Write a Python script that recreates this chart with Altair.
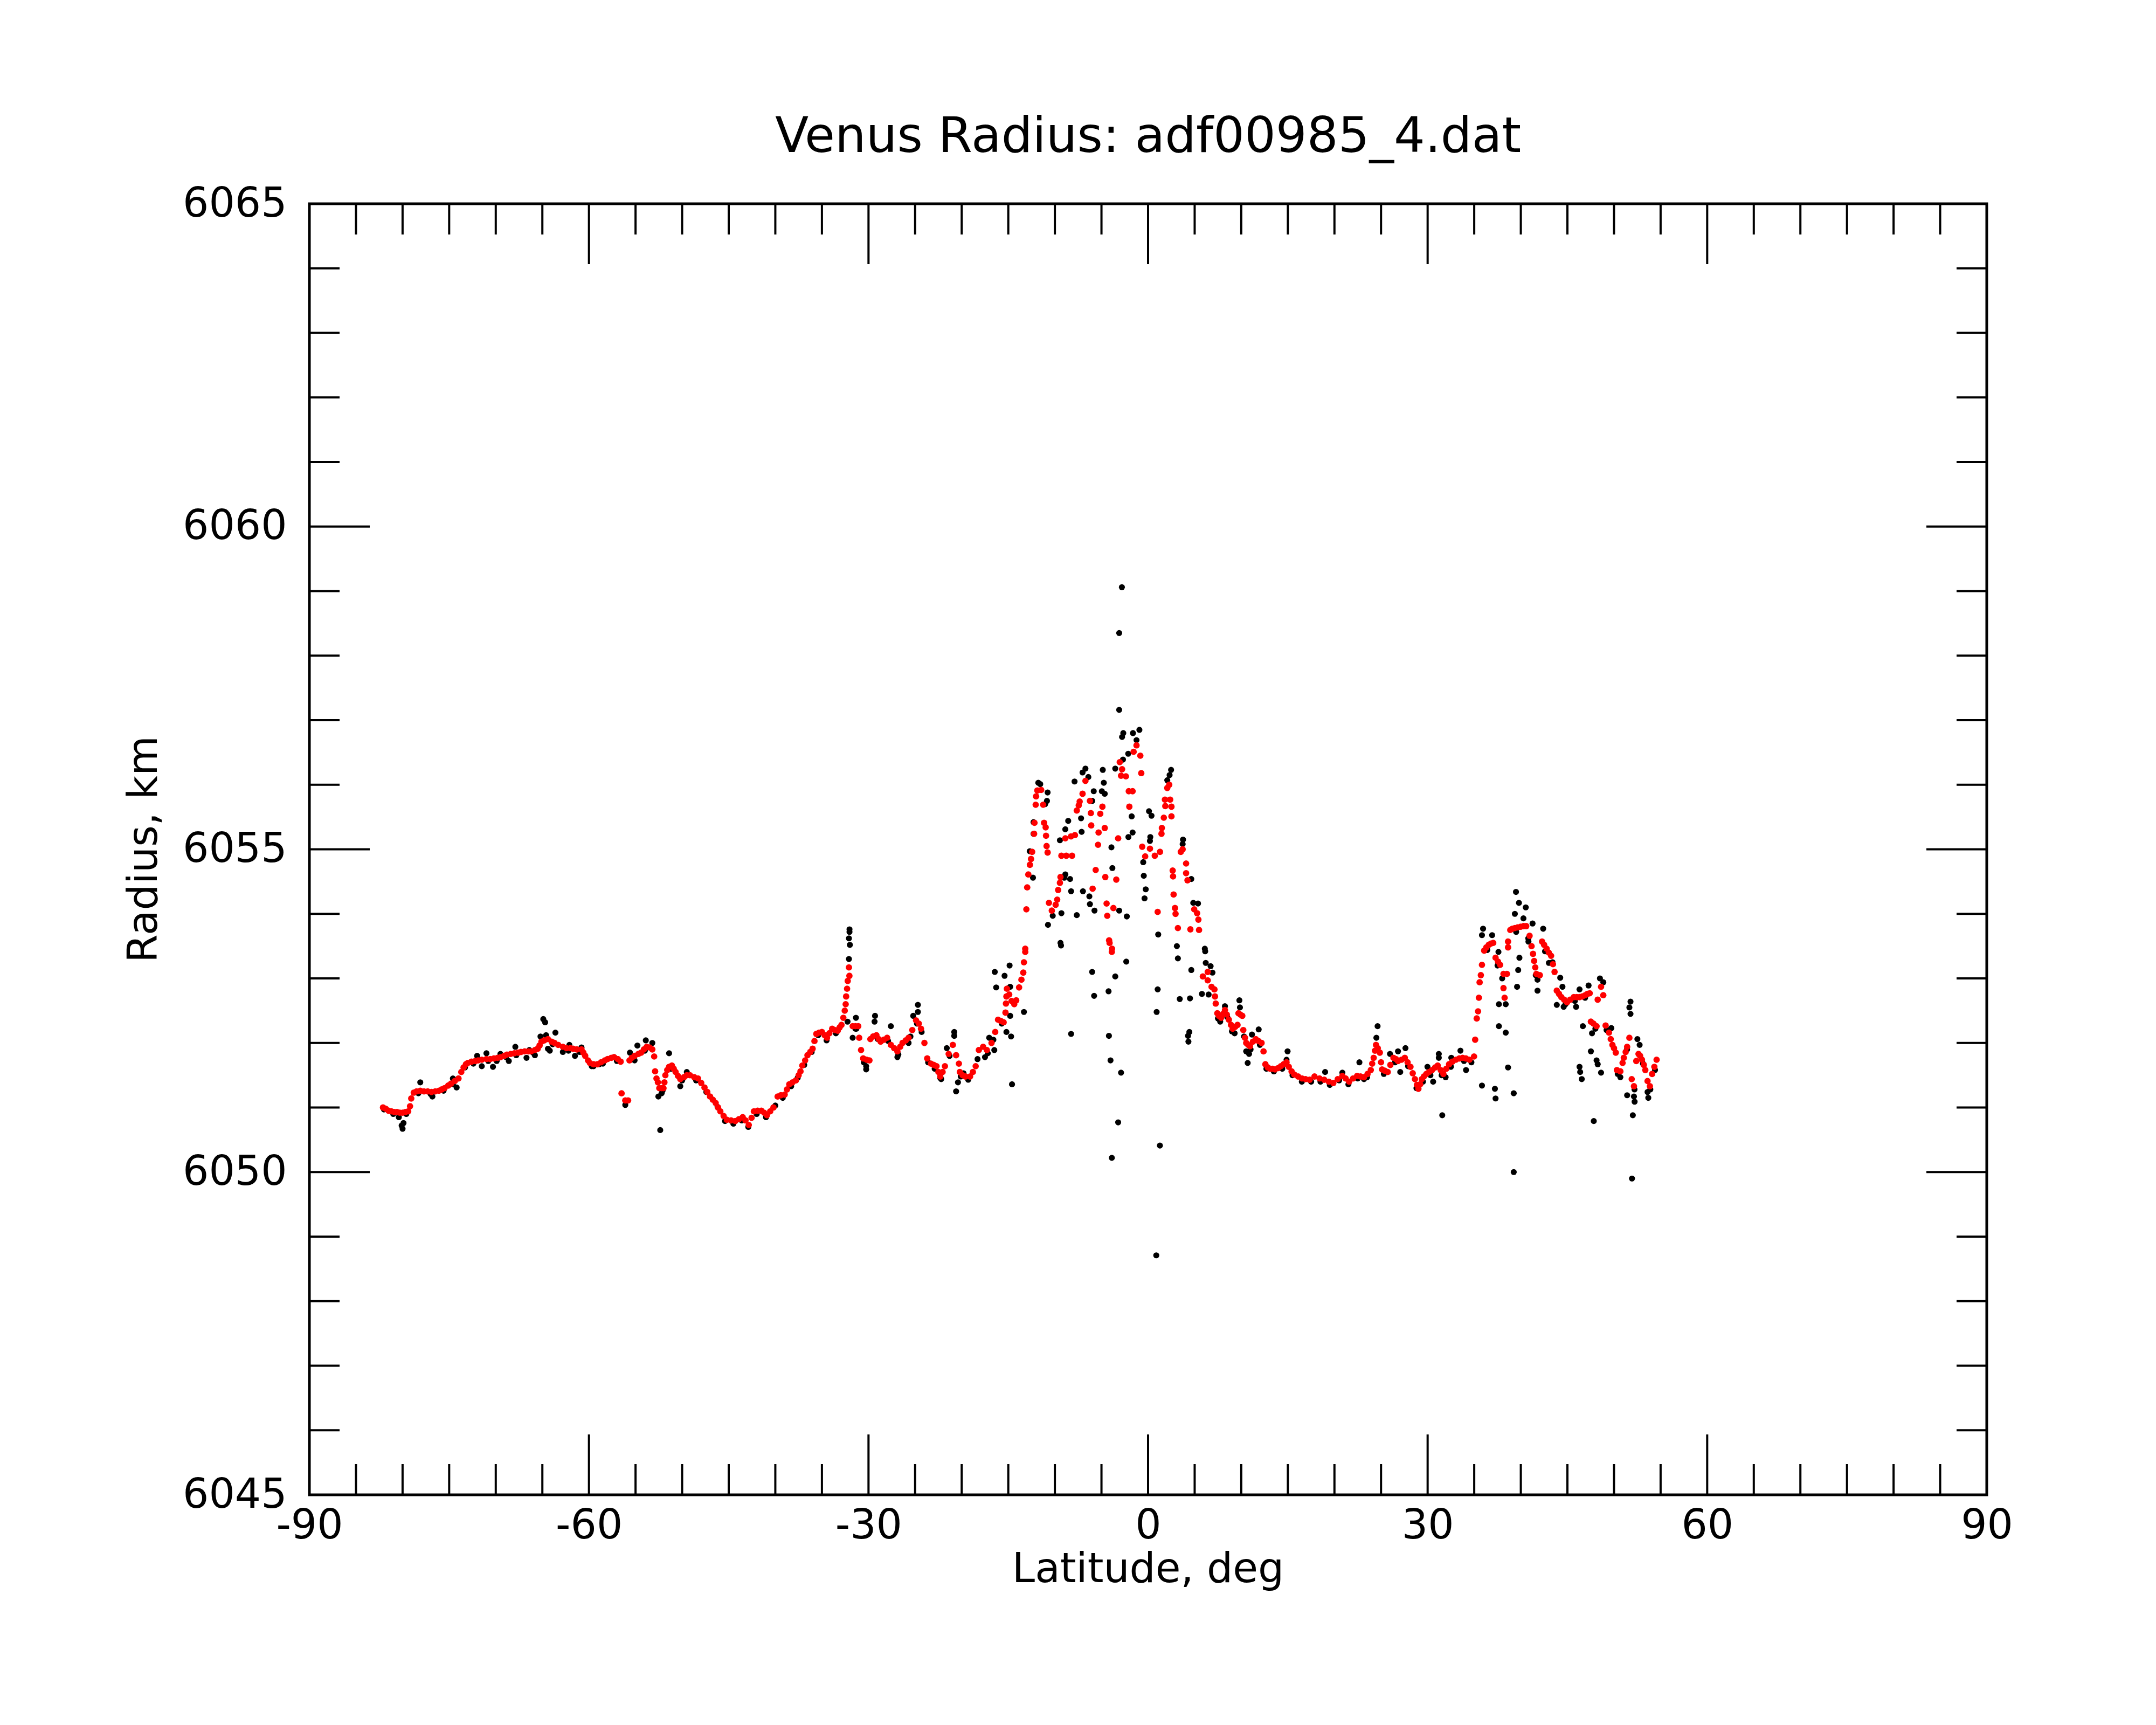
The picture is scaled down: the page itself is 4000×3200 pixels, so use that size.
import altair as alt
import pandas as pd

TITLE = "Venus Radius: adf00985_4.dat"
X_TITLE = "Latitude, deg"
Y_TITLE = "Radius, km"

X_LABELS = [-90, -60, -30, 0, 30, 60, 90]
X_MAJOR = [-60, -30, 0, 30, 60]
X_MINOR = [-85, -80, -75, -70, -65, -55, -50, -45, -40, -35, -25, -20, -15, -10, -5,
           5, 10, 15, 20, 25, 35, 40, 45, 50, 55, 65, 70, 75, 80, 85]
Y_LABELS = [6045, 6050, 6055, 6060, 6065]
Y_MAJOR = [6050, 6055, 6060]
Y_MINOR = [6046, 6047, 6048, 6049, 6051, 6052, 6053, 6054, 6056, 6057, 6058, 6059,
           6061, 6062, 6063, 6064]

# smoothed profile (red), (latitude, radius)
RED_SOUTH = [
    (-82.1, 6051.00), (-81.8, 6050.98), (-81.5, 6050.95), (-81.2, 6050.94), (-80.9, 6050.93),
    (-80.6, 6050.93), (-80.3, 6050.92), (-80.0, 6050.92), (-79.7, 6050.93), (-79.4, 6050.94),
    (-79.2, 6051.02), (-79.07, 6051.14), (-78.8, 6051.23), (-78.5, 6051.25), (-78.1, 6051.26),
    (-77.7, 6051.25), (-77.3, 6051.25), (-76.9, 6051.24), (-76.5, 6051.25), (-76.1, 6051.26),
    (-75.8, 6051.28), (-75.5, 6051.30), (-75.1, 6051.34), (-74.8, 6051.37), (-74.4, 6051.41),
    (-74.0, 6051.45), (-73.7, 6051.55), (-73.45, 6051.62), (-73.2, 6051.67), (-73.0, 6051.69),
    (-72.6, 6051.71), (-72.2, 6051.72), (-71.9, 6051.73), (-71.5, 6051.74), (-71.0, 6051.75),
    (-70.6, 6051.75), (-70.2, 6051.76), (-69.8, 6051.77), (-69.5, 6051.78), (-69.1, 6051.80),
    (-68.8, 6051.82), (-68.4, 6051.83), (-68.0, 6051.84), (-67.6, 6051.85), (-67.3, 6051.86),
    (-66.9, 6051.87), (-66.5, 6051.87), (-66.2, 6051.87), (-65.8, 6051.89), (-65.5, 6051.91),
    (-65.3, 6051.96), (-65.1, 6052.02), (-64.8, 6052.04), (-64.4, 6052.06), (-64.0, 6052.02),
    (-63.7, 6052.00), (-63.3, 6051.97), (-62.8, 6051.94), (-62.4, 6051.92), (-62.0, 6051.92),
    (-61.7, 6051.91), (-61.3, 6051.90), (-60.8, 6051.90), (-60.6, 6051.85), (-60.4, 6051.80),
    (-60.1, 6051.73), (-59.9, 6051.69), (-59.5, 6051.67), (-59.1, 6051.67), (-58.7, 6051.70),
    (-58.3, 6051.73), (-58.0, 6051.75), (-57.6, 6051.77), (-57.3, 6051.78), (-56.9, 6051.75),
    (-56.6, 6051.71), (-56.5, 6051.22), (-56.1, 6051.11), (-55.8, 6051.11), (-55.65, 6051.73),
    (-55.4, 6051.77), (-55.1, 6051.80), (-54.7, 6051.83), (-54.4, 6051.85), (-54.1, 6051.90),
    (-53.8, 6051.94), (-53.5, 6051.93), (-53.2, 6051.90), (-53.0, 6051.79), (-52.9, 6051.56),
    (-52.75, 6051.45), (-52.6, 6051.39), (-52.45, 6051.30), (-52.2, 6051.30), (-52.0, 6051.30),
    (-51.9, 6051.39), (-51.8, 6051.50), (-51.6, 6051.58), (-51.4, 6051.63), (-51.1, 6051.65),
    (-50.9, 6051.60), (-50.7, 6051.55), (-50.45, 6051.49), (-50.2, 6051.44), (-49.8, 6051.47),
    (-49.5, 6051.50),
]

RED_MID = [
    (-49.16, 6051.50), (-48.7, 6051.47), (-48.3, 6051.45), (-47.95, 6051.38), (-47.6, 6051.31),
    (-47.3, 6051.24), (-47.0, 6051.17), (-46.7, 6051.12), (-46.4, 6051.07), (-46.15, 6051.00),
    (-45.9, 6050.94), (-45.55, 6050.87), (-45.2, 6050.81), (-44.75, 6050.80), (-44.3, 6050.79),
    (-43.9, 6050.82), (-43.5, 6050.85), (-43.2, 6050.80), (-42.85, 6050.73), (-42.55, 6050.84),
    (-42.3, 6050.94), (-41.9, 6050.95), (-41.5, 6050.95), (-41.2, 6050.92), (-40.9, 6050.88),
    (-40.55, 6050.94), (-40.2, 6051.00), (-39.75, 6051.17), (-39.4, 6051.19), (-39.0, 6051.20),
    (-38.75, 6051.28), (-38.5, 6051.36), (-38.15, 6051.39), (-37.8, 6051.42), (-37.5, 6051.50),
    (-37.3, 6051.56), (-37.1, 6051.65), (-36.8, 6051.73), (-36.55, 6051.81), (-36.25, 6051.86),
    (-36.0, 6051.91), (-35.8, 6052.03), (-35.6, 6052.14), (-35.3, 6052.16), (-35.0, 6052.17),
    (-34.7, 6052.12), (-34.45, 6052.08), (-34.2, 6052.15), (-33.9, 6052.22), (-33.6, 6052.20),
    (-33.3, 6052.19), (-33.1, 6052.24), (-32.9, 6052.28), (-32.7, 6052.39), (-32.55, 6052.50),
    (-32.45, 6052.60), (-32.4, 6052.72), (-32.3, 6052.84), (-32.23, 6052.96), (-32.05, 6053.04),
    (-32.1, 6053.17), (-31.7, 6052.26), (-31.4, 6052.26), (-31.1, 6052.26), (-31.0, 6052.08),
    (-30.8, 6051.89), (-30.57, 6051.76), (-30.2, 6051.74), (-29.9, 6051.73), (-29.8, 6052.06),
    (-29.5, 6052.10), (-29.15, 6052.12), (-28.9, 6052.06), (-28.7, 6052.02), (-28.35, 6052.05),
    (-28.0, 6052.08), (-27.6, 6051.97), (-27.25, 6051.92), (-26.9, 6051.87), (-26.6, 6051.94),
    (-26.35, 6052.00), (-26.0, 6052.04), (-25.7, 6052.08), (-25.3, 6052.20), (-24.9, 6052.35),
    (-24.6, 6052.30), (-24.37, 6052.22), (-24.0, 6052.00), (-23.7, 6051.76), (-23.3, 6051.68),
    (-23.0, 6051.66), (-22.7, 6051.64), (-22.5, 6051.55), (-22.3, 6051.48), (-22.05, 6051.55),
    (-21.8, 6051.64), (-21.4, 6051.83), (-20.95, 6051.97), (-20.6, 6051.81), (-20.3, 6051.68),
    (-20.2, 6051.55), (-19.9, 6051.50), (-19.6, 6051.48), (-19.1, 6051.48), (-18.8, 6051.55),
    (-18.5, 6051.64), (-18.16, 6051.89), (-17.7, 6051.94), (-17.3, 6051.89), (-16.8, 6052.00),
    (-16.4, 6052.17), (-16.1, 6052.36), (-15.8, 6052.34), (-15.5, 6052.32), (-15.3, 6052.47),
    (-15.25, 6052.61), (-15.2, 6052.72), (-15.15, 6052.84), (-14.9, 6052.75), (-14.65, 6052.65),
    (-14.36, 6052.60), (-14.15, 6052.66), (-13.84, 6052.86), (-13.59, 6052.98), (-13.39, 6053.09),
    (-13.32, 6053.25), (-13.18, 6053.41),
]

RED_EQ = [
    (-13.18, 6053.46), (-13.06, 6054.07), (-12.97, 6054.41), (-12.85, 6054.61), (-12.68, 6054.76),
    (-12.56, 6054.85), (-12.44, 6054.96), (-12.23, 6055.24), (-12.19, 6055.41), (-12.06, 6055.69),
    (-12.02, 6055.82), (-11.88, 6055.91), (-11.47, 6055.92), (-11.26, 6055.69), (-11.16, 6055.41),
    (-10.99, 6055.34), (-10.95, 6055.21), (-10.89, 6055.05), (-10.78, 6054.95), (-10.64, 6054.17),
    (-10.33, 6054.05), (-9.92, 6054.14), (-9.75, 6054.22), (-9.65, 6054.37), (-9.46, 6054.48),
    (-9.40, 6054.57), (-9.30, 6054.90), (-8.78, 6054.90), (-8.16, 6054.90), (-8.88, 6055.17),
    (-8.27, 6055.20), (-7.85, 6055.22), (-7.65, 6055.60), (-7.44, 6055.68), (-7.34, 6055.74),
    (-7.03, 6055.86), (-6.72, 6056.06), (-6.24, 6055.75), (-6.14, 6055.56), (-6.10, 6055.37),
    (-5.95, 6054.39), (-5.62, 6054.68), (-5.37, 6055.07), (-5.31, 6055.26), (-5.13, 6055.55),
    (-4.90, 6055.66), (-4.65, 6055.33), (-4.59, 6054.57), (-4.45, 6054.16), (-4.38, 6053.97),
    (-4.18, 6053.59), (-4.13, 6053.55), (-3.89, 6053.41), (-3.87, 6053.46), (-3.72, 6054.09),
    (-3.41, 6054.53), (-3.21, 6055.17), (-3.04, 6056.35), (-2.79, 6056.24), (-2.90, 6056.14),
    (-2.38, 6056.13), (-2.07, 6055.90), (-2.01, 6055.66), (-1.66, 6055.90), (-1.55, 6056.51),
    (-1.24, 6056.61), (-0.83, 6056.45), (-0.73, 6056.18), (-0.63, 6055.04), (-0.31, 6054.89),
    (0.20, 6055.01), (0.72, 6054.90), (1.28, 6054.96), (1.03, 6054.03), (1.44, 6055.24),
    (1.48, 6055.33), (1.69, 6055.49), (1.85, 6055.67), (1.81, 6055.77), (2.37, 6055.77),
    (2.51, 6055.66), (2.51, 6055.51), (2.06, 6055.95), (2.27, 6056.00), (2.64, 6054.67),
    (2.68, 6054.58), (2.74, 6054.30), (2.89, 6054.09), (2.95, 6054.00), (3.20, 6053.78),
    (3.51, 6054.96), (3.71, 6055.00), (4.08, 6054.78), (4.08, 6054.63), (4.23, 6054.52),
    (4.54, 6053.76), (4.95, 6054.07), (5.26, 6054.01), (5.40, 6053.91), (5.47, 6053.75),
]

RED_NORTH = [
    (5.88, 6053.03), (6.40, 6053.10), (6.40, 6052.97), (6.81, 6052.87), (7.12, 6052.83),
    (7.18, 6052.72), (7.26, 6052.61), (7.43, 6052.46), (7.60, 6052.42), (7.84, 6052.39),
    (8.05, 6052.45), (8.25, 6052.51), (8.45, 6052.44), (8.67, 6052.36), (8.90, 6052.28),
    (9.08, 6052.22), (9.35, 6052.25), (9.60, 6052.28), (9.70, 6052.46), (9.90, 6052.44),
    (10.11, 6052.42), (10.22, 6052.20), (10.40, 6052.08), (10.53, 6052.00), (10.75, 6051.97),
    (10.94, 6051.95), (11.25, 6052.02), (11.56, 6052.06), (11.85, 6052.03), (12.18, 6052.00),
    (12.39, 6051.87), (12.59, 6051.67), (12.85, 6051.62), (13.10, 6051.60), (13.35, 6051.60),
    (13.62, 6051.59), (13.95, 6051.61), (14.25, 6051.64), (14.55, 6051.67), (14.86, 6051.70),
    (15.10, 6051.63), (15.40, 6051.56), (15.69, 6051.51), (16.10, 6051.48), (16.52, 6051.45),
    (16.90, 6051.44), (17.34, 6051.43), (17.86, 6051.48),
    (18.40, 6051.45), (18.90, 6051.43), (19.40, 6051.40), (19.88, 6051.38), (20.35, 6051.44),
    (20.85, 6051.49), (21.20, 6051.45), (21.58, 6051.40), (22.00, 6051.45), (22.43, 6051.49),
    (22.80, 6051.48), (23.17, 6051.47), (23.55, 6051.52), (23.90, 6051.58), (24.05, 6051.68),
    (24.21, 6051.77), (24.35, 6051.88), (24.46, 6051.97), (24.65, 6051.92), (24.87, 6051.85),
    (25.00, 6051.70), (25.11, 6051.59), (25.40, 6051.57), (25.72, 6051.55), (26.00, 6051.66),
    (26.33, 6051.77), (26.60, 6051.75), (26.82, 6051.72), (27.20, 6051.74), (27.55, 6051.77),
    (27.85, 6051.70), (28.16, 6051.63), (28.40, 6051.53), (28.64, 6051.44), (28.85, 6051.35),
    (29.01, 6051.29), (29.20, 6051.36), (29.37, 6051.44), (29.60, 6051.48), (29.86, 6051.52),
    (30.15, 6051.55), (30.47, 6051.58), (30.80, 6051.62), (31.08, 6051.65), (31.40, 6051.58),
    (31.69, 6051.52), (32.00, 6051.60), (32.30, 6051.67), (32.65, 6051.71), (33.03, 6051.74),
    (33.40, 6051.76), (33.76, 6051.77), (34.10, 6051.76), (34.49, 6051.74), (34.98, 6051.79),
    (35.10, 6052.05), (35.27, 6052.38), (35.41, 6052.49), (35.50, 6052.70), (35.58, 6052.94),
    (35.71, 6053.05), (35.83, 6053.21), (36.07, 6053.43), (36.30, 6053.48), (36.56, 6053.52),
    (36.80, 6053.54), (37.04, 6053.55), (37.29, 6053.32), (37.55, 6053.26), (37.78, 6053.21),
    (38.14, 6053.07), (38.51, 6053.07), (38.14, 6052.85), (38.26, 6052.70), (38.63, 6053.57),
    (38.63, 6053.48), (38.87, 6053.75), (39.10, 6053.77), (39.36, 6053.78), (39.65, 6053.79),
    (39.97, 6053.80), (40.30, 6053.81), (40.58, 6053.81), (40.94, 6053.66), (41.15, 6053.50),
    (41.31, 6053.38), (41.43, 6053.27), (41.55, 6053.17), (41.67, 6053.07), (42.04, 6053.05),
    (42.28, 6053.57), (42.50, 6053.52), (42.77, 6053.46), (43.00, 6053.40), (43.25, 6053.35),
    (43.45, 6053.22), (43.62, 6053.10), (43.86, 6052.81), (44.10, 6052.76), (44.35, 6052.71),
    (44.65, 6052.67), (44.96, 6052.63), (45.30, 6052.67), (45.69, 6052.71), (46.00, 6052.71),
    (46.30, 6052.71), (46.60, 6052.72), (46.91, 6052.74), (47.15, 6052.76), (47.39, 6052.77),
    (47.52, 6052.33), (47.80, 6052.30), (48.13, 6052.26), (48.25, 6052.67), (48.61, 6052.87),
    (48.85, 6052.74), (49.10, 6052.27), (49.46, 6052.16), (49.65, 6052.06), (49.83, 6051.97),
    (50.00, 6051.92), (50.19, 6051.85), (50.31, 6051.58), (50.68, 6051.56), (50.92, 6051.69),
    (51.05, 6051.77), (51.25, 6051.86), (51.41, 6051.94), (51.65, 6052.08), (51.90, 6051.44),
    (52.14, 6051.33), (52.39, 6051.72), (52.63, 6051.83), (52.80, 6051.80), (53.00, 6051.74),
    (53.20, 6051.66), (53.36, 6051.58), (53.60, 6051.41), (53.85, 6051.33), (54.09, 6051.52),
    (54.33, 6051.63), (54.57, 6051.74),
]

# raw measurements (black), (latitude, radius)
BLACK_TRACK = [
    (-82.0, 6050.97), (-81.0, 6050.90), (-79.6, 6050.90), (-78.3, 6051.22), (-77.0, 6051.21),
    (-75.6, 6051.26), (-74.6, 6051.36), (-73.3, 6051.62), (-72.4, 6051.68), (-70.8, 6051.72),
    (-69.9, 6051.72), (-68.9, 6051.78), (-67.8, 6051.81), (-66.0, 6051.85), (-63.9, 6051.98),
    (-62.2, 6051.88), (-61.0, 6051.86), (-59.7, 6051.64), (-58.5, 6051.68), (-57.0, 6051.72),
    (-55.2, 6051.76), (-54.0, 6051.88), (-52.1, 6051.26), (-51.2, 6051.60), (-50.0, 6051.42),
    (-48.5, 6051.42), (-47.4, 6051.24), (-46.2, 6051.01), (-45.4, 6050.79), (-44.5, 6050.75),
    (-43.6, 6050.80), (-42.9, 6050.70), (-42.0, 6050.90), (-41.0, 6050.85), (-40.0, 6051.03),
    (-39.2, 6051.15), (-38.3, 6051.33), (-37.6, 6051.46), (-36.9, 6051.66), (-36.1, 6051.86),
    (-35.4, 6052.12), (-34.5, 6052.04), (-33.5, 6052.15), (-31.3, 6052.22), (-30.5, 6051.70),
    (-29.0, 6052.06), (-27.9, 6052.03), (-26.8, 6051.82), (-25.5, 6052.10), (-24.8, 6052.30),
    (-23.6, 6051.70), (-22.9, 6051.60), (-22.2, 6051.44), (-21.3, 6051.80), (-20.1, 6051.48),
    (-19.3, 6051.43), (-18.3, 6051.75), (-17.2, 6051.84), (-16.6, 6052.05), (-15.7, 6052.30),
    (7.5, 6052.38), (8.5, 6052.40), (9.0, 6052.18), (10.3, 6052.10), (11.0, 6051.90),
    (12.0, 6051.97), (12.7, 6051.60), (13.5, 6051.56), (14.4, 6051.60), (15.5, 6051.50),
    (16.5, 6051.40), (17.5, 6051.40), (18.5, 6051.40), (19.5, 6051.35), (20.5, 6051.42),
    (21.5, 6051.36), (22.5, 6051.45), (23.5, 6051.47), (25.3, 6051.52), (26.5, 6051.70),
    (27.9, 6051.64), (28.8, 6051.30), (29.5, 6051.40), (30.3, 6051.50), (31.5, 6051.50),
    (32.5, 6051.63), (33.9, 6051.72), (34.7, 6051.70), (36.4, 6053.44), (37.5, 6053.20),
    (38.0, 6053.00), (39.5, 6053.72), (40.8, 6053.62), (41.6, 6053.05), (42.6, 6053.42),
    (43.4, 6053.25), (44.8, 6052.60), (45.8, 6052.65), (46.9, 6052.70), (48.0, 6052.22),
    (49.2, 6052.20), (50.4, 6051.52), (51.4, 6051.90), (52.2, 6051.28), (53.1, 6051.68),
    (53.9, 6051.28), (54.4, 6051.58),
]

BLACK_SOUTH = [
    (-80.4, 6050.85), (-80.1, 6050.72), (-79.9, 6050.76), (-80.0, 6050.67), (-78.1, 6051.39),
    (-76.8, 6051.17), (-74.6, 6051.45), (-74.2, 6051.31), (-72.0, 6051.80), (-71.5, 6051.64),
    (-71.0, 6051.84), (-70.3, 6051.63), (-69.5, 6051.83), (-68.6, 6051.72), (-67.9, 6051.94),
    (-66.7, 6051.77), (-66.4, 6051.89), (-65.8, 6051.81), (-64.9, 6052.37), (-64.7, 6052.32),
    (-65.2, 6052.10), (-64.6, 6052.12), (-63.6, 6052.16), (-64.4, 6051.91), (-64.2, 6051.88),
    (-62.1, 6051.97), (-62.8, 6051.86), (-61.5, 6051.80), (-60.8, 6051.93), (-59.5, 6051.64),
    (-58.9, 6051.67), (-57.3, 6051.78), (-56.1, 6051.04), (-55.6, 6051.85), (-54.8, 6051.96),
    (-53.9, 6052.04), (-53.2, 6052.00), (-55.1, 6051.73), (-52.55, 6051.17), (-52.35, 6050.65),
    (-52.2, 6051.22), (-51.4, 6051.84), (-50.2, 6051.33), (-49.5, 6051.55),
]

BLACK_MID = [
    (-32.04, 6053.76), (-32.04, 6053.72), (-32.1, 6053.62), (-32.0, 6053.52), (-32.1, 6053.30),
    (-32.25, 6052.33), (-31.35, 6052.39), (-31.4, 6052.22), (-31.7, 6052.08), (-30.25, 6051.59),
    (-30.25, 6051.64), (-29.3, 6052.42), (-29.35, 6052.33), (-27.6, 6052.26), (-24.7, 6052.59),
    (-24.7, 6052.48), (-25.2, 6052.42), (-24.3, 6052.17), (-26.9, 6051.78), (-25.7, 6052.00),
    (-20.8, 6052.17), (-20.8, 6052.11), (-21.6, 6051.92), (-20.6, 6051.25), (-20.4, 6051.39),
    (-22.3, 6051.46), (-19.8, 6051.53), (-17.5, 6051.78), (-16.5, 6051.89), (-17.05, 6052.08),
    (-16.45, 6053.10), (-16.3, 6052.86), (-15.4, 6053.04), (-14.86, 6053.20), (-14.8, 6052.87),
    (-14.8, 6052.42), (-15.2, 6052.17), (-14.7, 6052.10), (-14.6, 6051.36),
]

BLACK_EQ = [
    (-11.78, 6056.03), (-11.57, 6056.01), (-10.78, 6055.88), (-10.85, 6055.75), (-11.05, 6055.70),
    (-12.29, 6055.42), (-12.29, 6055.24), (-12.70, 6054.97), (-12.35, 6054.56), (-10.74, 6053.83),
    (-9.40, 6053.55), (-10.23, 6053.97), (-9.30, 6054.01), (-9.46, 6055.14), (-8.88, 6055.31),
    (-8.57, 6055.44), (-7.65, 6053.98), (-7.13, 6055.27), (-7.19, 6055.48), (-6.72, 6056.25),
    (-7.03, 6056.19), (-6.41, 6056.12), (-7.89, 6056.05), (-5.83, 6055.90), (-5.99, 6055.75),
    (-4.86, 6056.23), (-4.75, 6056.03), (-4.96, 6055.90), (-4.65, 6055.86), (-8.26, 6054.35),
    (-8.37, 6054.54), (-8.88, 6054.61), (-8.99, 6054.56), (-6.99, 6054.35), (-6.30, 6054.27),
    (-6.24, 6054.15), (-5.75, 6054.05), (-3.83, 6054.71), (-3.93, 6055.03), (-3.10, 6054.05),
    (-2.28, 6053.96), (-2.11, 6055.19), (-1.66, 6055.26), (-1.76, 6055.51), (-2.79, 6056.74),
    (-1.62, 6056.80), (-0.93, 6056.85), (-1.24, 6056.69), (-2.13, 6056.48), (-2.69, 6056.39),
    (-3.52, 6056.25), (0.10, 6055.59), (0.37, 6055.52), (0.24, 6055.19), (0.20, 6055.13),
    (-0.52, 6054.80), (-0.46, 6054.59), (-0.25, 6054.38), (-0.38, 6054.24), (1.09, 6053.68),
    (2.47, 6056.23), (2.31, 6056.15), (2.06, 6056.07), (3.75, 6055.15), (3.71, 6055.08),
    (4.64, 6054.54), (4.85, 6054.17), (5.36, 6054.16), (3.09, 6053.50), (6.09, 6053.46),
    (-9.34, 6053.51), (-13.32, 6052.48), (-8.26, 6052.14), (-6.00, 6053.10), (-5.79, 6052.73),
    (-4.24, 6052.80), (-3.52, 6053.03), (-2.34, 6053.26), (-4.20, 6052.11), (-4.03, 6051.73),
    (-2.90, 6051.54), (-3.21, 6050.77), (-3.89, 6050.22), (1.03, 6052.83), (0.92, 6052.48),
    (1.27, 6050.41), (3.20, 6053.31), (4.64, 6053.13), (3.40, 6052.68), (4.50, 6052.69),
    (4.43, 6052.17), (4.29, 6052.11), (4.33, 6052.02), (6.13, 6053.42), (6.19, 6053.24),
    (6.71, 6053.19), (6.91, 6053.09), (5.78, 6052.76), (6.50, 6052.75), (7.74, 6052.33),
    (8.25, 6052.57), (9.80, 6052.66), (9.86, 6052.55), (9.29, 6052.15), (11.87, 6052.21),
    (11.15, 6052.13), (10.53, 6051.87), (10.84, 6051.83), (10.69, 6051.69), (14.97, 6051.87),
    (14.86, 6051.74),
]

BLACK_NORTH = [
    (24.63, 6052.26), (24.50, 6052.08), (22.68, 6051.70), (23.17, 6051.44), (19.00, 6051.55),
    (20.85, 6051.54), (25.96, 6051.83), (26.82, 6051.87), (27.06, 6051.55), (27.62, 6051.92),
    (29.98, 6051.63), (30.59, 6051.40), (31.20, 6051.83), (31.20, 6051.77), (31.93, 6051.47),
    (31.57, 6050.88), (32.54, 6051.77), (33.52, 6051.88), (34.12, 6051.58), (35.83, 6051.34),
    (37.22, 6051.29), (37.29, 6051.14), (39.24, 6051.22), (38.63, 6051.62), (37.65, 6052.26),
    (38.38, 6052.16), (35.95, 6053.77), (35.83, 6053.67), (36.92, 6053.67), (37.60, 6053.41),
    (37.65, 6052.60), (38.38, 6052.60), (39.48, 6054.34), (39.80, 6054.17), (40.53, 6054.10),
    (39.36, 6054.00), (40.28, 6053.93), (39.85, 6053.32), (39.72, 6053.13), (39.60, 6052.87),
    (41.26, 6053.85), (40.82, 6053.57), (41.79, 6052.98), (41.79, 6052.81), (42.40, 6053.77),
    (43.01, 6053.24), (44.23, 6053.01), (44.47, 6052.87), (43.86, 6052.59), (44.60, 6052.56),
    (45.93, 6052.56), (46.30, 6052.83), (47.27, 6052.89), (48.49, 6053.00), (48.85, 6052.94),
    (46.66, 6052.26), (47.64, 6052.15), (47.52, 6051.87), (48.13, 6051.73), (48.25, 6051.67),
    (48.61, 6051.54), (46.30, 6051.63), (46.37, 6051.55), (46.54, 6051.44), (47.83, 6050.79),
    (49.71, 6052.23), (51.77, 6052.64), (51.65, 6052.55), (51.77, 6052.45), (52.51, 6052.06),
    (52.75, 6051.97), (50.68, 6051.47), (51.41, 6051.19), (52.14, 6051.17), (52.21, 6051.09),
    (52.02, 6050.88), (53.60, 6051.24), (53.68, 6051.15),
]

BLACK_OUTLIERS = [
    (-2.81, 6059.06), (-3.10, 6058.35), (-3.10, 6057.16), (-2.66, 6056.80),
    (0.88, 6048.71), (39.24, 6050.00), (51.93, 6049.90),
]

# ---------------------------------------------------------------------------
W, H = 3112, 2395
FONT = "DejaVu Sans"
LABEL_SIZE = 76

red = pd.DataFrame(RED_SOUTH + RED_MID + RED_EQ + RED_NORTH, columns=["lat", "r"])
black = pd.DataFrame(BLACK_TRACK + BLACK_SOUTH + BLACK_MID + BLACK_EQ + BLACK_NORTH
                     + BLACK_OUTLIERS, columns=["lat", "r"])

x_axis = alt.Axis(values=X_LABELS, labelExpr="'' + datum.value", ticks=False, tickSize=0,
                  domain=False, grid=False, labelFlush=False, labelPadding=20, labelLimit=0,
                  labelFontSize=LABEL_SIZE, labelFont=FONT, labelColor="black", title=None)
y_axis = alt.Axis(values=Y_LABELS, labelExpr="'' + datum.value", ticks=False, tickSize=0,
                  domain=False, grid=False, labelFlush=False, labelPadding=42, labelLimit=0,
                  labelFontSize=LABEL_SIZE, labelFont=FONT, labelColor="black", title=None)
xs = alt.Scale(domain=[-90, 90], nice=False, zero=False)
ys = alt.Scale(domain=[6045, 6065], nice=False, zero=False)


def X():
    return alt.X("lat:Q", scale=xs, axis=x_axis)


def Y():
    return alt.Y("r:Q", scale=ys, axis=y_axis)


black_pts = alt.Chart(black).mark_circle(size=125, opacity=1, color="black").encode(x=X(), y=Y())
red_pts = alt.Chart(red).mark_circle(size=140, opacity=1, color="#ff0000").encode(x=X(), y=Y())

TICK_W = 4
MINOR_X, MAJOR_X = 57, 112
MINOR_Y, MAJOR_Y = 56, 112

layers = [black_pts, red_pts]
for vals, ln in [(X_MINOR, MINOR_X), (X_MAJOR, MAJOR_X)]:
    d = pd.DataFrame({"lat": vals})
    layers.append(alt.Chart(d).mark_rule(color="black", strokeWidth=TICK_W).encode(
        x=X(), y=alt.value(H), y2=alt.value(H - ln)))
    layers.append(alt.Chart(d).mark_rule(color="black", strokeWidth=TICK_W).encode(
        x=X(), y=alt.value(0), y2=alt.value(ln)))
for vals, ln in [(Y_MINOR, MINOR_Y), (Y_MAJOR, MAJOR_Y)]:
    d = pd.DataFrame({"r": vals})
    layers.append(alt.Chart(d).mark_rule(color="black", strokeWidth=TICK_W).encode(
        y=Y(), x=alt.value(0), x2=alt.value(ln)))
    layers.append(alt.Chart(d).mark_rule(color="black", strokeWidth=TICK_W).encode(
        y=Y(), x=alt.value(W - ln), x2=alt.value(W)))

title_layer = alt.Chart(pd.DataFrame({"t": [TITLE]})).mark_text(
    font=FONT, fontSize=91, baseline="alphabetic", align="center", color="black"
).encode(text="t:N", x=alt.value(W / 2), y=alt.value(-96))
xt_layer = alt.Chart(pd.DataFrame({"t": [X_TITLE]})).mark_text(
    font=FONT, fontSize=LABEL_SIZE, baseline="alphabetic", align="center", color="black"
).encode(text="t:N", x=alt.value(W / 2), y=alt.value(H + 162))
yt_layer = alt.Chart(pd.DataFrame({"t": [Y_TITLE]})).mark_text(
    font=FONT, fontSize=LABEL_SIZE, baseline="alphabetic", align="center", angle=270,
    color="black"
).encode(text="t:N", x=alt.value(-283), y=alt.value(H / 2))
layers += [title_layer, xt_layer, yt_layer]

chart = alt.layer(*layers).properties(
    width=W, height=H,
    padding={"left": 566, "top": 370, "right": 300, "bottom": 400},
    autosize=alt.AutoSizeParams(type="none"),
    background="white",
).configure_view(stroke="black", strokeWidth=5)

chart.save("out.html", embed_options={"renderer": "svg", "actions": False})
